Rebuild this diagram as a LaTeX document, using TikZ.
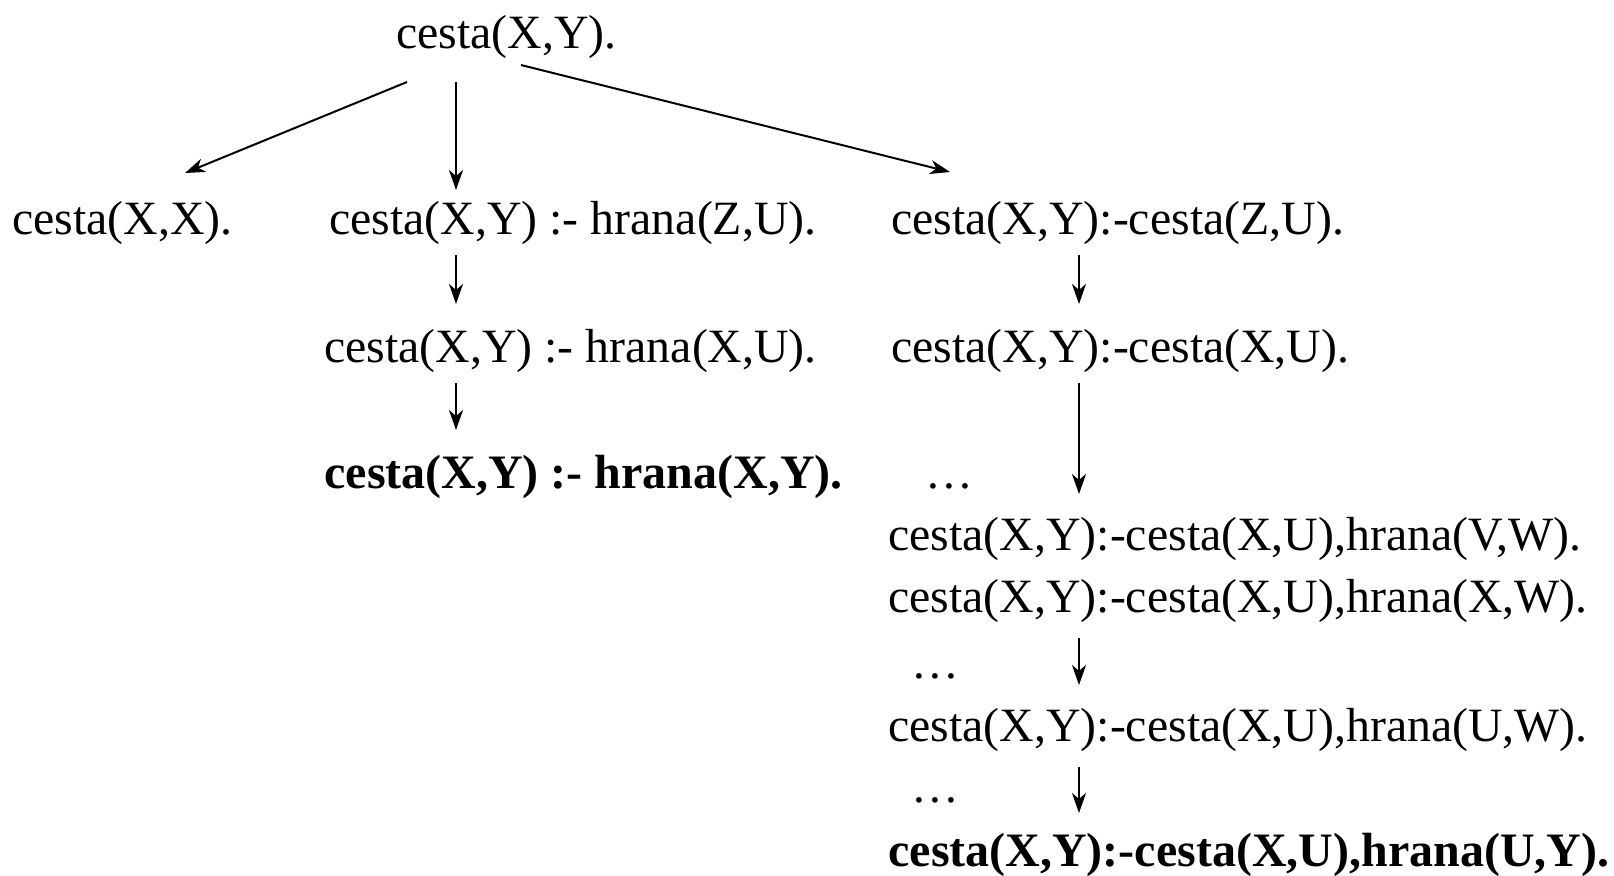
\documentclass[tikz,border=0pt]{standalone}
\usepackage{fontspec}
\setmainfont{Liberation Serif}
\usetikzlibrary{arrows.meta,calc}
\begin{document}
\begin{tikzpicture}[x=0.5pt,y=-0.5pt,
  lbl/.style={anchor=west,inner sep=0pt,font=\fontsize{23.9}{28}\selectfont},
  blbl/.style={lbl,font=\fontsize{24.0}{28}\selectfont\bfseries},
  dts/.style={anchor=center,inner sep=0pt,font=\fontsize{23.9}{28}\selectfont},
  arr/.style={line width=1pt,-{Stealth[length=10pt,width=7pt,inset=3pt]}}]
\useasboundingbox (0,0) rectangle (1614,875);
\node[lbl] (root) at (396,37) {cesta(X,Y).};
\node[lbl] (n1) at (12,223) {cesta(X,X).};
\node[lbl] (n2) at (329,223) {cesta(X,Y) :- hrana(Z,U).};
\node[lbl] (n3) at (891,223) {cesta(X,Y):-cesta(Z,U).};
\node[lbl] (n4) at (324,351) {cesta(X,Y) :- hrana(X,U).};
\node[blbl] (n5) at (324,477) {cesta(X,Y) :- hrana(X,Y).};
\node[lbl] (n6) at (891,351) {cesta(X,Y):-cesta(X,U).};
\node[dts] (d1) at (949,486) {\ldots};
\node[lbl] (n7) at (888,539) {cesta(X,Y):-cesta(X,U),hrana(V,W).};
\node[lbl] (n8) at (888,601) {cesta(X,Y):-cesta(X,U),hrana(X,W).};
\node[dts] (d2) at (935,676) {\ldots};
\node[lbl] (n9) at (888,730) {cesta(X,Y):-cesta(X,U),hrana(U,W).};
\node[dts] (d3) at (935,800) {\ldots};
\node[blbl] (n10) at (888,855) {cesta(X,Y):-cesta(X,U),hrana(U,Y).};
\draw[arr] ($(root.west)+(11,45)$) -- ($(n1.west)+(173,-50)$);
\draw[arr] ($(root.west)+(60,45)$) -- ($(n2.west)+(127,-33)$);
\draw[arr] ($(root.west)+(125,28)$) -- ($(n3.west)+(59,-51)$);
\draw[arr] ($(n2.west)+(127,32)$) -- ($(n4.west)+(132,-47)$);
\draw[arr] ($(n4.west)+(132,32)$) -- ($(n5.west)+(132,-47)$);
\draw[arr] ($(n3.west)+(188,32)$) -- ($(n6.west)+(188,-47)$);
\draw[arr] ($(n6.west)+(188,32)$) -- ($(n7.west)+(191,-45)$);
\draw[arr] ($(n8.west)+(191,37)$) -- ($(n9.west)+(191,-45)$);
\draw[arr] ($(n9.west)+(191,37)$) -- ($(n10.west)+(191,-42)$);
\end{tikzpicture}
\end{document}
